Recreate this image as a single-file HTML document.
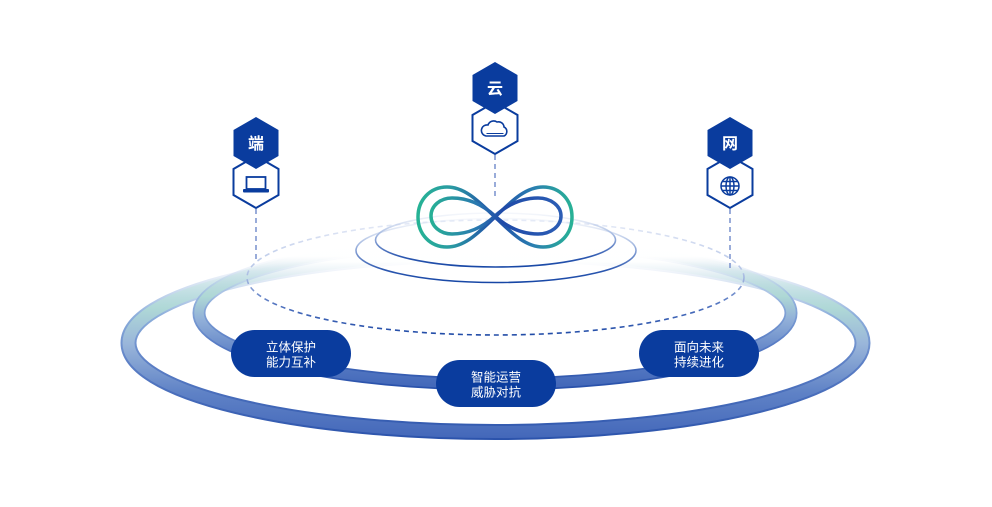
<!DOCTYPE html>
<html><head><meta charset="utf-8"><style>
html,body{margin:0;padding:0;background:#fff;}
svg{display:block;}
text{font-family:"Liberation Sans","Noto Sans CJK SC",sans-serif;}
</style></head><body>
<svg width="992" height="507" viewBox="0 0 992 507" xmlns="http://www.w3.org/2000/svg">
<defs>
  <linearGradient id="outerEdge" gradientUnits="userSpaceOnUse" x1="0" y1="246" x2="0" y2="441">
    <stop offset="0" stop-color="#c8d6ee" stop-opacity="0"/>
    <stop offset="0.08" stop-color="#c8d6ee" stop-opacity="0"/>
    <stop offset="0.2" stop-color="#b4cbe8" stop-opacity="0.55"/>
    <stop offset="0.35" stop-color="#8fb0dc" stop-opacity="1"/>
    <stop offset="0.6" stop-color="#5d80c6"/>
    <stop offset="1" stop-color="#2a52ab"/>
  </linearGradient>
  <linearGradient id="outerMain" gradientUnits="userSpaceOnUse" x1="0" y1="246" x2="0" y2="441">
    <stop offset="0" stop-color="#e3f2f0" stop-opacity="0"/>
    <stop offset="0.08" stop-color="#e3f2f0" stop-opacity="0.02"/>
    <stop offset="0.2" stop-color="#c6e6e2" stop-opacity="0.6"/>
    <stop offset="0.32" stop-color="#b0dad6" stop-opacity="0.95"/>
    <stop offset="0.5" stop-color="#9ab6da"/>
    <stop offset="0.75" stop-color="#5f82c6"/>
    <stop offset="1" stop-color="#4266b9"/>
  </linearGradient>
  <linearGradient id="midEdge" gradientUnits="userSpaceOnUse" x1="0" y1="242" x2="0" y2="385">
    <stop offset="0" stop-color="#c8d6ee" stop-opacity="0"/>
    <stop offset="0.1" stop-color="#c8d6ee" stop-opacity="0"/>
    <stop offset="0.25" stop-color="#b4cbe8" stop-opacity="0.5"/>
    <stop offset="0.42" stop-color="#8eaedb"/>
    <stop offset="0.7" stop-color="#5a7ec6"/>
    <stop offset="1" stop-color="#2a52ab"/>
  </linearGradient>
  <linearGradient id="midMain" gradientUnits="userSpaceOnUse" x1="0" y1="242" x2="0" y2="385">
    <stop offset="0" stop-color="#e3f2f0" stop-opacity="0"/>
    <stop offset="0.1" stop-color="#e3f2f0" stop-opacity="0.02"/>
    <stop offset="0.25" stop-color="#c8e6e2" stop-opacity="0.6"/>
    <stop offset="0.38" stop-color="#aed8d5"/>
    <stop offset="0.55" stop-color="#90aed8"/>
    <stop offset="0.8" stop-color="#5b7fc5"/>
    <stop offset="1" stop-color="#4469ba"/>
  </linearGradient>
  <linearGradient id="dashG" gradientUnits="userSpaceOnUse" x1="0" y1="220" x2="0" y2="336">
    <stop offset="0" stop-color="#e6ebf7"/>
    <stop offset="0.45" stop-color="#b3c3e6"/>
    <stop offset="0.75" stop-color="#4c6fbd"/>
    <stop offset="1" stop-color="#1f4aa6"/>
  </linearGradient>
  <linearGradient id="ell1" gradientUnits="userSpaceOnUse" x1="0" y1="218" x2="0" y2="283">
    <stop offset="0" stop-color="#e4eaf6" stop-opacity="0.3"/>
    <stop offset="0.45" stop-color="#98afdc"/>
    <stop offset="0.8" stop-color="#2d58b0"/>
    <stop offset="1" stop-color="#1646a5"/>
  </linearGradient>
  <linearGradient id="ell2" gradientUnits="userSpaceOnUse" x1="0" y1="212" x2="0" y2="268">
    <stop offset="0" stop-color="#e4eaf6" stop-opacity="0.3"/>
    <stop offset="0.45" stop-color="#98afdc"/>
    <stop offset="0.8" stop-color="#2d58b0"/>
    <stop offset="1" stop-color="#1646a5"/>
  </linearGradient>
  <linearGradient id="infO" gradientUnits="userSpaceOnUse" x1="418" y1="0" x2="572" y2="0">
    <stop offset="0" stop-color="#26b395"/>
    <stop offset="0.22" stop-color="#2a9aa3"/>
    <stop offset="0.5" stop-color="#1f4aa8"/>
    <stop offset="0.75" stop-color="#2a7fb0"/>
    <stop offset="1" stop-color="#28b196"/>
  </linearGradient>
  <linearGradient id="infI" gradientUnits="userSpaceOnUse" x1="431" y1="0" x2="561" y2="0">
    <stop offset="0" stop-color="#27b096"/>
    <stop offset="0.35" stop-color="#2a79b0"/>
    <stop offset="0.55" stop-color="#1f4aa8"/>
    <stop offset="1" stop-color="#2b5db5"/>
  </linearGradient>
</defs>

<!-- outer ring -->
<ellipse cx="495.5" cy="343" rx="367" ry="89" fill="none" stroke="url(#outerEdge)" stroke-width="16"/>
<ellipse cx="495.5" cy="343" rx="367" ry="89" fill="none" stroke="url(#outerMain)" stroke-width="12"/>

<!-- middle ring -->
<ellipse cx="495" cy="313" rx="296" ry="71" fill="none" stroke="url(#midEdge)" stroke-width="13"/>
<ellipse cx="495" cy="313" rx="296" ry="71" fill="none" stroke="url(#midMain)" stroke-width="9.5"/>

<!-- dashed ellipse -->
<ellipse cx="495.5" cy="277.5" rx="248.5" ry="57.5" fill="none" stroke="url(#dashG)" stroke-width="1.6" stroke-dasharray="5 4"/>

<!-- inner ellipses -->
<ellipse cx="496" cy="250.5" rx="140" ry="32" fill="none" stroke="url(#ell1)" stroke-width="1.6"/>
<ellipse cx="495.5" cy="240" rx="120" ry="27" fill="none" stroke="url(#ell2)" stroke-width="1.6"/>

<!-- infinity -->
<path d="M495,217 C481,204 466,187 447,187 C430,187 418,200 418,217 C418,234 430,247 447,247 C466,247 481,230 495,217 C509,204 524,187 543,187 C560,187 572,200 572,217 C572,234 560,247 543,247 C524,247 509,230 495,217 Z" fill="none" stroke="url(#infO)" stroke-width="3.5" stroke-linejoin="round"/>
<path d="M495,216 C483,205 469,198 452,198 C440,198 431,206 431,216 C431,226 440,234 452,234 C469,234 483,227 495,216 C507,205 521,198 538,198 C551,198 561,206 561,216 C561,226 551,234 538,234 C521,234 507,227 495,216 Z" fill="none" stroke="url(#infI)" stroke-width="3.5" stroke-linejoin="round"/>

<!-- dashed verticals -->
<line x1="256" y1="209" x2="256" y2="262" stroke="#8097d0" stroke-width="1.6" stroke-dasharray="5 4"/>
<line x1="495" y1="155" x2="495" y2="200" stroke="#8097d0" stroke-width="1.6" stroke-dasharray="5 4"/>
<line x1="730" y1="209" x2="730" y2="268" stroke="#8097d0" stroke-width="1.6" stroke-dasharray="5 4"/>

<!-- hex 端 -->
<g transform="translate(256,182)">
  <polygon points="0,-26 22.5,-13 22.5,13 0,26 -22.5,13 -22.5,-13" fill="#fff" stroke="#0a3c9e" stroke-width="2"/>
  <rect x="-9.5" y="-5" width="19" height="12" fill="none" stroke="#0a3c9e" stroke-width="1.8"/>
  <rect x="-13" y="7" width="26" height="3.5" rx="1" fill="#0a3c9e"/>
</g>
<g transform="translate(256,143)">
  <polygon points="0,-26 22.5,-13 22.5,13 0,26 -22.5,13 -22.5,-13" fill="#0a3c9e"/>
  <text x="0" y="6" text-anchor="middle" font-size="16" font-weight="bold" fill="#fff">端</text>
</g>

<!-- hex 云 -->
<g transform="translate(495,128)">
  <polygon points="0,-26 22.5,-13 22.5,13 0,26 -22.5,13 -22.5,-13" fill="#fff" stroke="#0a3c9e" stroke-width="2"/>
  <path d="M-9,8 H9 A5,5 0 0 0 9,-1 A5.5,5.5 0 0 0 2,-6 A6,6 0 0 0 -7,-3 A5.5,5.5 0 0 0 -9,8 Z" fill="none" stroke="#0a3c9e" stroke-width="1.6"/>
  <path d="M-8.5,5.5 H8.5" stroke="#0a3c9e" stroke-width="1"/>
</g>
<g transform="translate(495,88)">
  <polygon points="0,-26 22.5,-13 22.5,13 0,26 -22.5,13 -22.5,-13" fill="#0a3c9e"/>
  <text x="0" y="6" text-anchor="middle" font-size="16" font-weight="bold" fill="#fff">云</text>
</g>

<!-- hex 网 -->
<g transform="translate(730,182)">
  <polygon points="0,-26 22.5,-13 22.5,13 0,26 -22.5,13 -22.5,-13" fill="#fff" stroke="#0a3c9e" stroke-width="2"/>
  <g transform="translate(0,4)" fill="none" stroke="#0a3c9e" stroke-width="1.5">
    <circle cx="0" cy="0" r="9"/>
    <ellipse cx="0" cy="0" rx="4" ry="9"/>
    <line x1="0" y1="-9" x2="0" y2="9"/>
    <line x1="-9" y1="0" x2="9" y2="0"/>
    <line x1="-8" y1="-4.5" x2="8" y2="-4.5"/>
    <line x1="-8" y1="4.5" x2="8" y2="4.5"/>
  </g>
</g>
<g transform="translate(730,143)">
  <polygon points="0,-26 22.5,-13 22.5,13 0,26 -22.5,13 -22.5,-13" fill="#0a3c9e"/>
  <text x="0" y="6" text-anchor="middle" font-size="16" font-weight="bold" fill="#fff">网</text>
</g>

<!-- pills -->
<g>
  <rect x="231" y="330" width="120" height="47" rx="23.5" fill="#0a3c9e"/>
  <text x="291" y="351.5" text-anchor="middle" font-size="12.5" fill="#fff">立体保护</text>
  <text x="291" y="366.5" text-anchor="middle" font-size="12.5" fill="#fff">能力互补</text>
</g>
<g>
  <rect x="436" y="360" width="120" height="47" rx="23.5" fill="#0a3c9e"/>
  <text x="496" y="381.5" text-anchor="middle" font-size="12.5" fill="#fff">智能运营</text>
  <text x="496" y="396.5" text-anchor="middle" font-size="12.5" fill="#fff">威胁对抗</text>
</g>
<g>
  <rect x="639" y="330" width="120" height="47" rx="23.5" fill="#0a3c9e"/>
  <text x="699" y="351.5" text-anchor="middle" font-size="12.5" fill="#fff">面向未来</text>
  <text x="699" y="366.5" text-anchor="middle" font-size="12.5" fill="#fff">持续进化</text>
</g>
</svg>
</body></html>
